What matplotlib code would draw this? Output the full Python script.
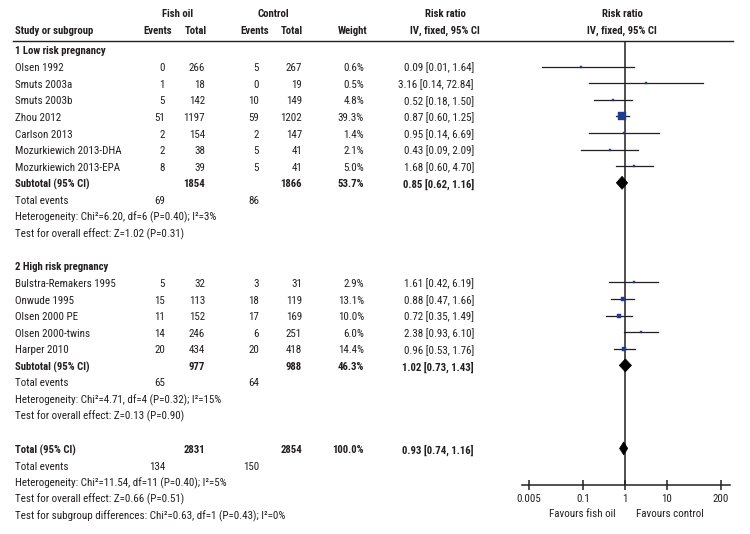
import matplotlib
matplotlib.use('Agg')
import matplotlib.pyplot as plt
from matplotlib import font_manager
import numpy as np

names = {f.name for f in font_manager.fontManager.ttflist}
FONT = 'DejaVu Sans'
for cand in ['Liberation Sans Narrow', 'DejaVu Sans Condensed', 'Roboto Condensed',
             'Open Sans Condensed', 'Liberation Sans']:
    if cand in names:
        FONT = cand
        break
plt.rcParams['font.family'] = [FONT, 'DejaVu Sans']

# ---------------- data ----------------
low_studies = ["Olsen 1992", "Smuts 2003a", "Smuts 2003b", "Zhou 2012", "Carlson 2013",
               "Mozurkiewich 2013-DHA", "Mozurkiewich 2013-EPA"]
low_fish_events = [0, 1, 5, 51, 2, 2, 8]
low_fish_total = [266, 18, 142, 1197, 154, 38, 39]
low_ctrl_events = [5, 0, 10, 59, 2, 5, 5]
low_ctrl_total = [267, 19, 149, 1202, 147, 41, 41]
low_weight = [0.6, 0.5, 4.8, 39.3, 1.4, 2.1, 5.0]
low_rr = [0.09, 3.16, 0.52, 0.87, 0.95, 0.43, 1.68]
low_lo = [0.01, 0.14, 0.18, 0.60, 0.14, 0.09, 0.60]
low_hi = [1.64, 72.84, 1.50, 1.25, 6.69, 2.09, 4.70]

high_studies = ["Bulstra-Remakers 1995", "Onwude 1995", "Olsen 2000 PE", "Olsen 2000-twins", "Harper 2010"]
high_fish_events = [5, 15, 11, 14, 20]
high_fish_total = [32, 113, 152, 246, 434]
high_ctrl_events = [3, 18, 17, 6, 20]
high_ctrl_total = [31, 119, 169, 251, 418]
high_weight = [2.9, 13.1, 10.0, 6.0, 14.4]
high_rr = [1.61, 0.88, 0.72, 2.38, 0.96]
high_lo = [0.42, 0.47, 0.35, 0.93, 0.53]
high_hi = [6.19, 1.66, 1.49, 6.10, 1.76]

group_titles = ["1 Low risk pregnancy", "2 High risk pregnancy"]
sum_labels = ["Subtotal (95% CI)", "Subtotal (95% CI)", "Total (95% CI)"]
sum_fish_total = [1854, 977, 2831]
sum_ctrl_total = [1866, 988, 2854]
sum_weight = [53.7, 46.3, 100.0]
sum_rr = [0.85, 1.02, 0.93]
sum_lo = [0.62, 0.73, 0.74]
sum_hi = [1.16, 1.43, 1.16]
sum_fish_events = [69, 65, 134]
sum_ctrl_events = [86, 64, 150]
heterogeneity = ["Heterogeneity: Chi\u00b2=6.20, df=6 (P=0.40); I\u00b2=3%",
                 "Heterogeneity: Chi\u00b2=4.71, df=4 (P=0.32); I\u00b2=15%",
                 "Heterogeneity: Chi\u00b2=11.54, df=11 (P=0.40); I\u00b2=5%"]
overall = ["Test for overall effect: Z=1.02 (P=0.31)",
           "Test for overall effect: Z=0.13 (P=0.90)",
           "Test for overall effect: Z=0.66 (P=0.51)"]
subgroup_test = "Test for subgroup differences: Chi\u00b2=0.63, df=1 (P=0.43); I\u00b2=0%"

xticks = [0.005, 0.1, 1, 10, 200]
xticklabels = ["0.005", "0.1", "1", "10", "200"]

# ---------------- layout ----------------
W, H = 750, 534
fig = plt.figure(figsize=(W / 100, H / 100), dpi=100)
tax = fig.add_axes([0, 0, 1, 1])
tax.set_xlim(0, W)
tax.set_ylim(H, 0)
tax.axis('off')

# fit font sizes so that text widths approximate the reference's condensed face
fig.canvas.draw()
_r = fig.canvas.get_renderer()
def _w(s, size, weight):
    tt = tax.text(0, 0, s, fontsize=size, fontweight=weight)
    w = tt.get_window_extent(_r).width
    tt.remove()
    return w
reg_fit = [("Total events", 47), (heterogeneity[0], 193), (overall[0], 152),
           ("Mozurkiewich 2013-DHA", 96), ("Mozurkiewich 2013-EPA", 94), ("3.16 [0.14, 72.84]", 72)]
bold_fit = [("Subtotal (95% CI)", 72), ("Study or subgroup", 77), ("1 Low risk pregnancy", 87)]
FS = 1.08 * float(np.clip(10 * sum(t_ for _, t_ in reg_fit) / sum(_w(s, 10, 'normal') for s, _ in reg_fit), 7, 11))
FSB = 1.04 * float(np.clip(10 * sum(t_ for _, t_ in bold_fit) / sum(_w(s, 10, 'bold') for s, _ in bold_fit), 7, 11))

TXT = '#231f20'
SQ = '#1f3d8f'

X_NAME = 15
X_FE, X_FT, X_CE, X_CT, X_W, X_RR = 165, 205, 259, 302, 364, 474

Y0, DY = 51.5, 16.6
def rowy(i):
    return Y0 + DY * i

AX_L, AX_R, AX_T, AX_B = 522, 730, 40.7, 485
fax = fig.add_axes([AX_L / W, 1 - AX_B / H, (AX_R - AX_L) / W, (AX_B - AX_T) / H])
fax.set_xscale('log')
lx0 = (AX_L - 625) / 41.7
lx1 = (AX_R - 625) / 41.7
fax.set_xlim(10 ** lx0, 10 ** lx1)
fax.set_ylim(AX_B, AX_T)
for s in ['top', 'left', 'right']:
    fax.spines[s].set_visible(False)
fax.spines['bottom'].set_linewidth(1.1)
fax.spines['bottom'].set_color(TXT)
fax.set_yticks([])
fax.set_xticks(xticks)
fax.set_xticklabels(xticklabels)
fax.minorticks_off()
fax.tick_params(axis='x', direction='inout', length=7, width=1.1, color=TXT,
                labelsize=FS, labelcolor=TXT, pad=3)
fax.patch.set_alpha(0)
fax.axvline(1, color=TXT, lw=1.1, zorder=1)


def t(x, y, s, ha='left', bold=False):
    tax.text(x, y, s, ha=ha, va='center', fontsize=FSB if bold else FS, color=TXT,
             fontweight='bold' if bold else 'normal')

# headers
t(178, 14, "Fish oil", 'center', True)
t(273, 14, "Control", 'center', True)
t(445, 14, "Risk ratio", 'center', True)
t(622, 14, "Risk ratio", 'center', True)
t(X_NAME, 31, "Study or subgroup", 'left', True)
t(158, 31, "Events", 'center', True)
t(196, 31, "Total", 'center', True)
t(255, 31, "Events", 'center', True)
t(292, 31, "Total", 'center', True)
t(367, 31, "Weight", 'right', True)
t(445, 31, "IV, fixed, 95% CI", 'center', True)
t(622, 31, "IV, fixed, 95% CI", 'center', True)
tax.plot([13, 733], [40.7, 40.7], color=TXT, lw=1.0)

OFF = -1.5
def study_rows(start, names_, fe, ft, ce, ct, w, rr, lo, hi):
    for k, nm in enumerate(names_):
        y = rowy(start + k)
        t(X_NAME, y, nm)
        t(X_FE, y, str(fe[k]), 'right')
        t(X_FT, y, str(ft[k]), 'right')
        t(X_CE, y, str(ce[k]), 'right')
        t(X_CT, y, str(ct[k]), 'right')
        t(X_W, y, f"{w[k]:.1f}%", 'right')
        t(X_RR, y, f"{rr[k]:.2f} [{lo[k]:.2f}, {hi[k]:.2f}]", 'right')
        fax.plot([lo[k], hi[k]], [y + OFF, y + OFF], color=TXT, lw=0.9, zorder=2)
        side_px = max(2.2, 7.5 * np.sqrt(w[k] / 39.3))
        fax.plot([rr[k]], [y + OFF], marker='s', ms=side_px * 0.72, color=SQ,
                 mec=SQ, mew=0.3, zorder=3)


def summary_rows(start, g):
    y = rowy(start)
    t(X_NAME, y, sum_labels[g], bold=True)
    t(X_FT, y, str(sum_fish_total[g]), 'right', True)
    t(X_CT, y, str(sum_ctrl_total[g]), 'right', True)
    t(X_W, y, f"{sum_weight[g]:.1f}%", 'right', True)
    t(X_RR, y, f"{sum_rr[g]:.2f} [{sum_lo[g]:.2f}, {sum_hi[g]:.2f}]", 'right', True)
    yc = y + OFF
    dh = 6.5
    fax.fill([sum_lo[g], sum_rr[g], sum_hi[g], sum_rr[g]],
             [yc, yc - dh, yc, yc + dh], color='black', zorder=4, lw=0.5, ec='black')
    y = rowy(start + 1)
    t(X_NAME, y, "Total events")
    t(X_FE, y, str(sum_fish_events[g]), 'right')
    t(X_CE, y, str(sum_ctrl_events[g]), 'right')
    t(X_NAME, rowy(start + 2), heterogeneity[g])
    t(X_NAME, rowy(start + 3), overall[g])


t(X_NAME, rowy(0), group_titles[0], bold=True)
study_rows(1, low_studies, low_fish_events, low_fish_total, low_ctrl_events, low_ctrl_total,
           low_weight, low_rr, low_lo, low_hi)
summary_rows(8, 0)

t(X_NAME, rowy(13), group_titles[1], bold=True)
study_rows(14, high_studies, high_fish_events, high_fish_total, high_ctrl_events, high_ctrl_total,
           high_weight, high_rr, high_lo, high_hi)
summary_rows(19, 1)

summary_rows(24, 2)
t(X_NAME, rowy(28), subgroup_test)

t(582, 514, "Favours fish oil", 'center')
t(670, 514, "Favours control", 'center')

fig.savefig('out.png', dpi=100)
